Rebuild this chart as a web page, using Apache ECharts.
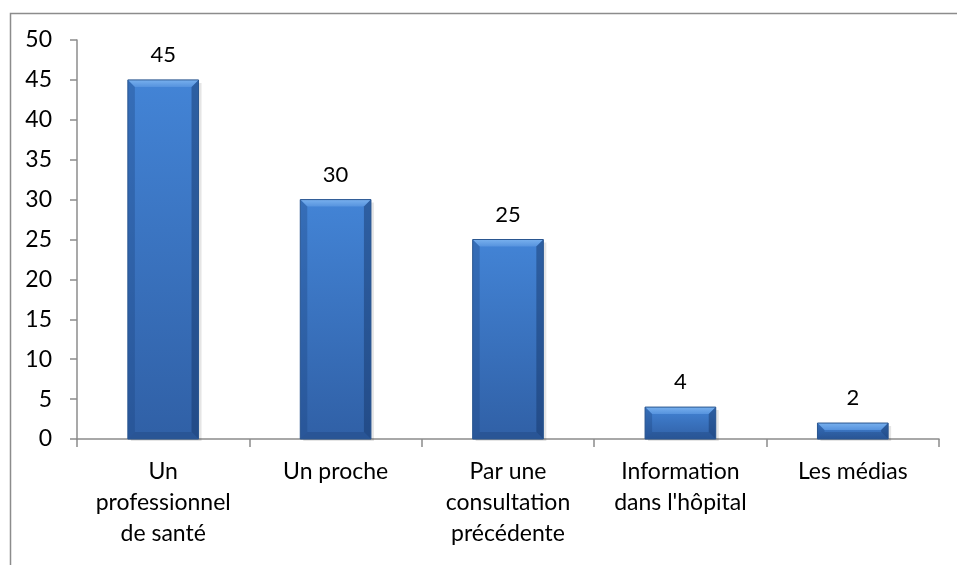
<!DOCTYPE html>
<html>
<head>
<meta charset="utf-8">
<script src="https://cdn.jsdelivr.net/npm/echarts@6/dist/echarts.min.js"></script>
<style>
  html, body { margin: 0; padding: 0; background: #fff; }
  #chart { width: 957px; height: 565px; }
</style>
</head>
<body>
<div id="chart"></div>
<script>
const categories = [
  "Un\nprofessionnel\nde santé",
  "Un proche",
  "Par une\nconsultation\nprécédente",
  "Information\ndans l'hôpital",
  "Les médias"
];
const values = [45, 30, 25, 4, 2];
const yTicks = [0, 50, 5]; // min, max, interval

const FONT = "Lato";

// bevelled bar, like the office "3D" bar style
function renderBar(params, api) {
  const idx = api.value(0);
  const val = api.value(1);
  const top = api.coord([idx, val]);
  const base = api.coord([idx, 0]);
  const w = api.size([1, 0])[0] * 0.41;
  const x0 = top[0] - w / 2, x1 = top[0] + w / 2;
  const y0 = top[1], y1 = base[1];
  const h = y1 - y0;
  const b = Math.min(7, h / 2, w / 2);
  const poly = (pts, fill) => ({ type: "polygon", shape: { points: pts }, style: { fill: fill } });
  return {
    type: "group",
    children: [
      { type: "rect", shape: { x: x0 + 3, y: y0 + 3, width: w, height: h - 1 },
        style: { fill: "rgba(0,0,0,0.10)" } },
      { type: "rect", shape: { x: x0, y: y0, width: w, height: h },
        style: { fill: new echarts.graphic.LinearGradient(0, 0, 0, 1, [
          { offset: 0, color: "#4384d6" }, { offset: 1, color: "#3060a6" }]) } },
      poly([[x0, y0], [x1, y0], [x1 - b, y0 + b], [x0 + b, y0 + b]],
        new echarts.graphic.LinearGradient(0, 0, 0, 1, [
          { offset: 0, color: "#78b0ee" }, { offset: 1, color: "#5693de" }])),
      poly([[x0, y0], [x0 + b, y0 + b], [x0 + b, y1 - b], [x0, y1]], "rgba(30,70,130,0.35)"),
      poly([[x1, y0], [x1, y1], [x1 - b, y1 - b], [x1 - b, y0 + b]], "rgba(20,50,100,0.45)"),
      poly([[x0, y1], [x0 + b, y1 - b], [x1 - b, y1 - b], [x1, y1]], "rgba(20,50,100,0.25)"),
      { type: "rect", shape: { x: x0, y: y0, width: w, height: h },
        style: { fill: "none", stroke: "#2a5690", lineWidth: 1 } },
      { type: "text", x: top[0], y: y0 - 14,
        style: { text: String(val), fill: "#000", font: "22px " + FONT, align: "center", verticalAlign: "bottom" } }
    ]
  };
}

const chart = echarts.init(document.getElementById("chart"));
chart.setOption({
  animation: false,
  graphic: [{
    type: "rect", left: 8, top: 11,
    shape: { width: 1000, height: 700 },
    style: { fill: "none", stroke: "#8c8c8c", lineWidth: 1.5 }, z: -1
  }],
  grid: { left: 77, right: 18, top: 40, bottom: 126 },
  xAxis: {
    type: "category",
    data: categories,
    axisLine: { lineStyle: { color: "#8c8c8c", width: 1.5 } },
    axisTick: { show: true, length: 8, lineStyle: { color: "#8c8c8c", width: 1.5 } },
    axisLabel: { color: "#000", fontFamily: FONT, fontSize: 23, lineHeight: 31, margin: 17, interval: 0 }
  },
  yAxis: {
    type: "value",
    min: yTicks[0], max: yTicks[1], interval: yTicks[2],
    splitLine: { show: false },
    axisLine: { show: true, lineStyle: { color: "#8c8c8c", width: 1.5 } },
    axisTick: { show: true, length: 7, lineStyle: { color: "#8c8c8c", width: 1.5 } },
    axisLabel: { color: "#000", fontFamily: FONT, fontSize: 23, margin: 25 }
  },
  series: [{
    type: "custom",
    renderItem: renderBar,
    data: values.map((v, i) => [i, v]),
    encode: { x: 0, y: 1 }
  }]
});
</script>
</body>
</html>
